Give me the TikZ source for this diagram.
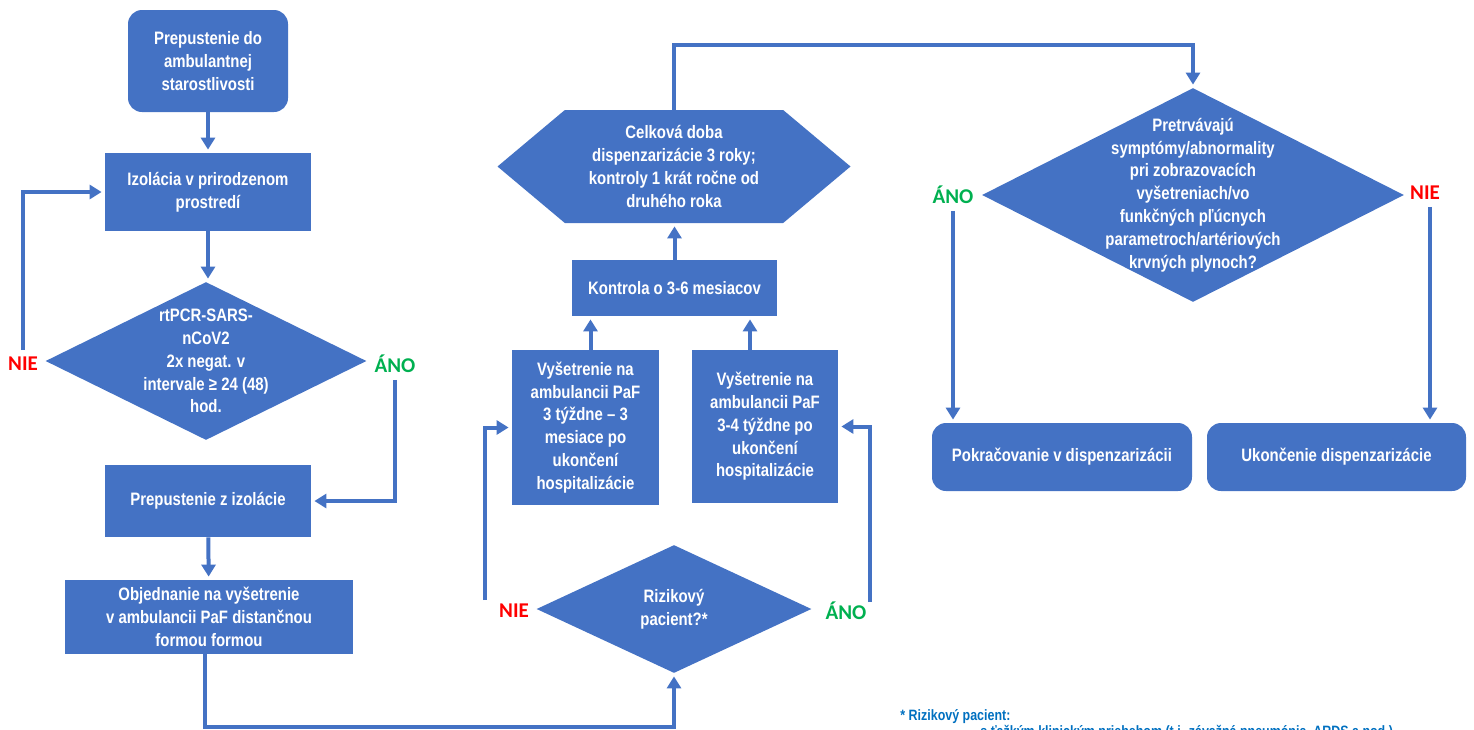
\documentclass[tikz,border=0pt]{standalone}
\usepackage{fontspec}
\setmainfont{Liberation Sans}[FakeStretch=0.83]
\newfontfamily\labelfont{Carlito}
\usetikzlibrary{shapes.geometric,shapes.symbols,arrows.meta}

\definecolor{boxblue}{RGB}{68,114,196}
\definecolor{nored}{RGB}{255,0,0}
\definecolor{yesgreen}{RGB}{0,176,80}
\definecolor{noteblue}{RGB}{0,112,192}
\newcommand{\boxfont}{\bfseries\fontsize{9}{11.4}\selectfont}

\tikzset{
  box/.style={fill=boxblue,text=white,align=center,inner sep=0pt,font=\boxfont},
  rbox/.style={box,rounded corners=7pt},
  decision/.style={diamond,fill=boxblue,inner sep=0pt},
  boxtext/.style={text=white,align=center,inner sep=0pt,font=\boxfont},
  yes/.style={text=yesgreen,font=\labelfont\bfseries\fontsize{10.5}{12}\selectfont},
  no/.style={text=nored,font=\labelfont\bfseries\fontsize{10.5}{12}\selectfont},
  flow/.style={draw=boxblue,line width=2pt,-{Triangle[width=7pt,length=6pt]},shorten >=1.5pt},
  note/.style={text=noteblue,anchor=base west,inner sep=0pt,font=\bfseries\fontsize{7.5}{9}\selectfont}
}

\begin{document}
\begin{tikzpicture}[x=0.5pt,y=-0.5pt]
  \clip (0,0) rectangle (1474,729);

  \begin{scope}
    \node[rbox,minimum width=80pt,minimum height=51pt] (start) at (208,61)
      {Prepustenie do\\ambulantnej\\starostlivosti};
    \node[box,minimum width=103pt,minimum height=39pt] (izol) at (208,192)
      {Izolácia v prirodzenom\\prostredí};
    \node[decision,minimum width=160.5pt,minimum height=79pt] (test) at (206,361) {};
    \node[boxtext] (testtxt) at (test.center)
      {rtPCR-SARS-\\nCoV2\\2x negat. v\\intervale ≥ 24 (48)\\hod.};
    \node[box,minimum width=103pt,minimum height=36pt] (prep) at (208,501)
      {Prepustenie z izolácie};
    \node[box,minimum width=144pt,minimum height=37pt] (objed) at (209,617)
      {Objednanie na vyšetrenie\\v ambulancii PaF distančnou\\formou formou};

    \node[decision,minimum width=137.5pt,minimum height=64pt] (riz) at (674,609) {};
    \node[boxtext] (riztxt) at (riz.center) {Rizikový\\pacient?*};
    \node[box,minimum width=73.5pt,minimum height=77.5pt] (vysA) at (585.5,427.5)
      {Vyšetrenie na\\ambulancii PaF\\3 týždne – 3\\mesiace po\\ukončení\\hospitalizácie};
    \node[box,minimum width=73pt,minimum height=76.5pt] (vysB) at (765,426.5)
      {Vyšetrenie na\\ambulancii PaF\\3-4 týždne po\\ukončení\\hospitalizácie};
    \node[box,minimum width=102.5pt,minimum height=28pt] (kontr) at (674.5,288)
      {Kontrola o 3-6 mesiacov};
    \node[signal,signal to=west and east,signal pointer angle=80,fill=boxblue,
      inner sep=0pt,minimum width=176.5pt,minimum height=56.5pt] (doba) at (674,166.5) {};
    \node[boxtext] (dobatxt) at (doba.center)
      {Celková doba\\dispenzarizácie 3 roky;\\kontroly 1 krát ročne od\\druhého roka};

    \node[decision,minimum width=211pt,minimum height=107pt] (pretr) at (1193,195) {};
    \node[boxtext] (pretrtxt) at (pretr.center)
      {Pretrvávajú\\symptómy/abnormality\\pri zobrazovacích\\vyšetreniach/vo\\funkčných pľúcnych\\parametroch/artériových\\krvných plynoch?};
    \node[rbox,minimum width=130pt,minimum height=34pt] (pokr) at (1062,457)
      {Pokračovanie v dispenzarizácii};
    \node[rbox,minimum width=129.5pt,minimum height=34pt] (ukon) at (1336.5,457)
      {Ukončenie dispenzarizácie};
  \end{scope}

  \node[no]  (nieA) at (23,364)   {NIE};
  \node[yes] (anoA) at (395,364)  {ÁNO};
  \node[no]  (nieB) at (514,611)  {NIE};
  \node[yes] (anoB) at (846,611)  {ÁNO};
  \node[yes] (anoC) at (953,195)  {ÁNO};
  \node[no]  (nieC) at (1425,193) {NIE};

  \coordinate (nieBup) at (485,600);
  \coordinate (anoBup) at (870,602);
  \coordinate (botbend) at (674,727);
  \coordinate (topbend) at (1193,45);

  \begin{scope}[every path/.style={flow}]
    \draw (start) -- (izol);
    \draw (izol.south) -- (izol.south |- test.north);
    \draw (nieA.north) |- (izol.west);
    \draw (anoA.south) |- (prep.east);
    \draw (prep) -- (objed);
    \draw ([xshift=-2pt]objed.south) |- (botbend) -- (riz.south);
    \draw (nieBup) |- (vysA.west);
    \draw (anoBup) |- (vysB.east);
    \draw ([xshift=2.5pt]vysA.north) -- ([xshift=2.5pt]vysA.north |- kontr.south);
    \draw ([xshift=-7.5pt]vysB.north) -- ([xshift=-7.5pt]vysB.north |- kontr.south);
    \draw (kontr.north) -- (kontr.north |- doba.south);
    \draw (doba.north) |- (topbend) -- (pretr.north);
    \draw (anoC.south) -- (anoC.south |- pokr.north);
    \draw ([xshift=2.5pt]nieC.south) -- ([xshift=2.5pt]nieC.south |- ukon.north);
  \end{scope}

  \node[note] (note1) at (900,720) {* Rizikový pacient:};
  \node[note] (note2) at (980,736)
    {s ťažkým klinickým priebehom (t.j. závažná pneumónia, ARDS a pod.)};

\end{tikzpicture}
\end{document}
